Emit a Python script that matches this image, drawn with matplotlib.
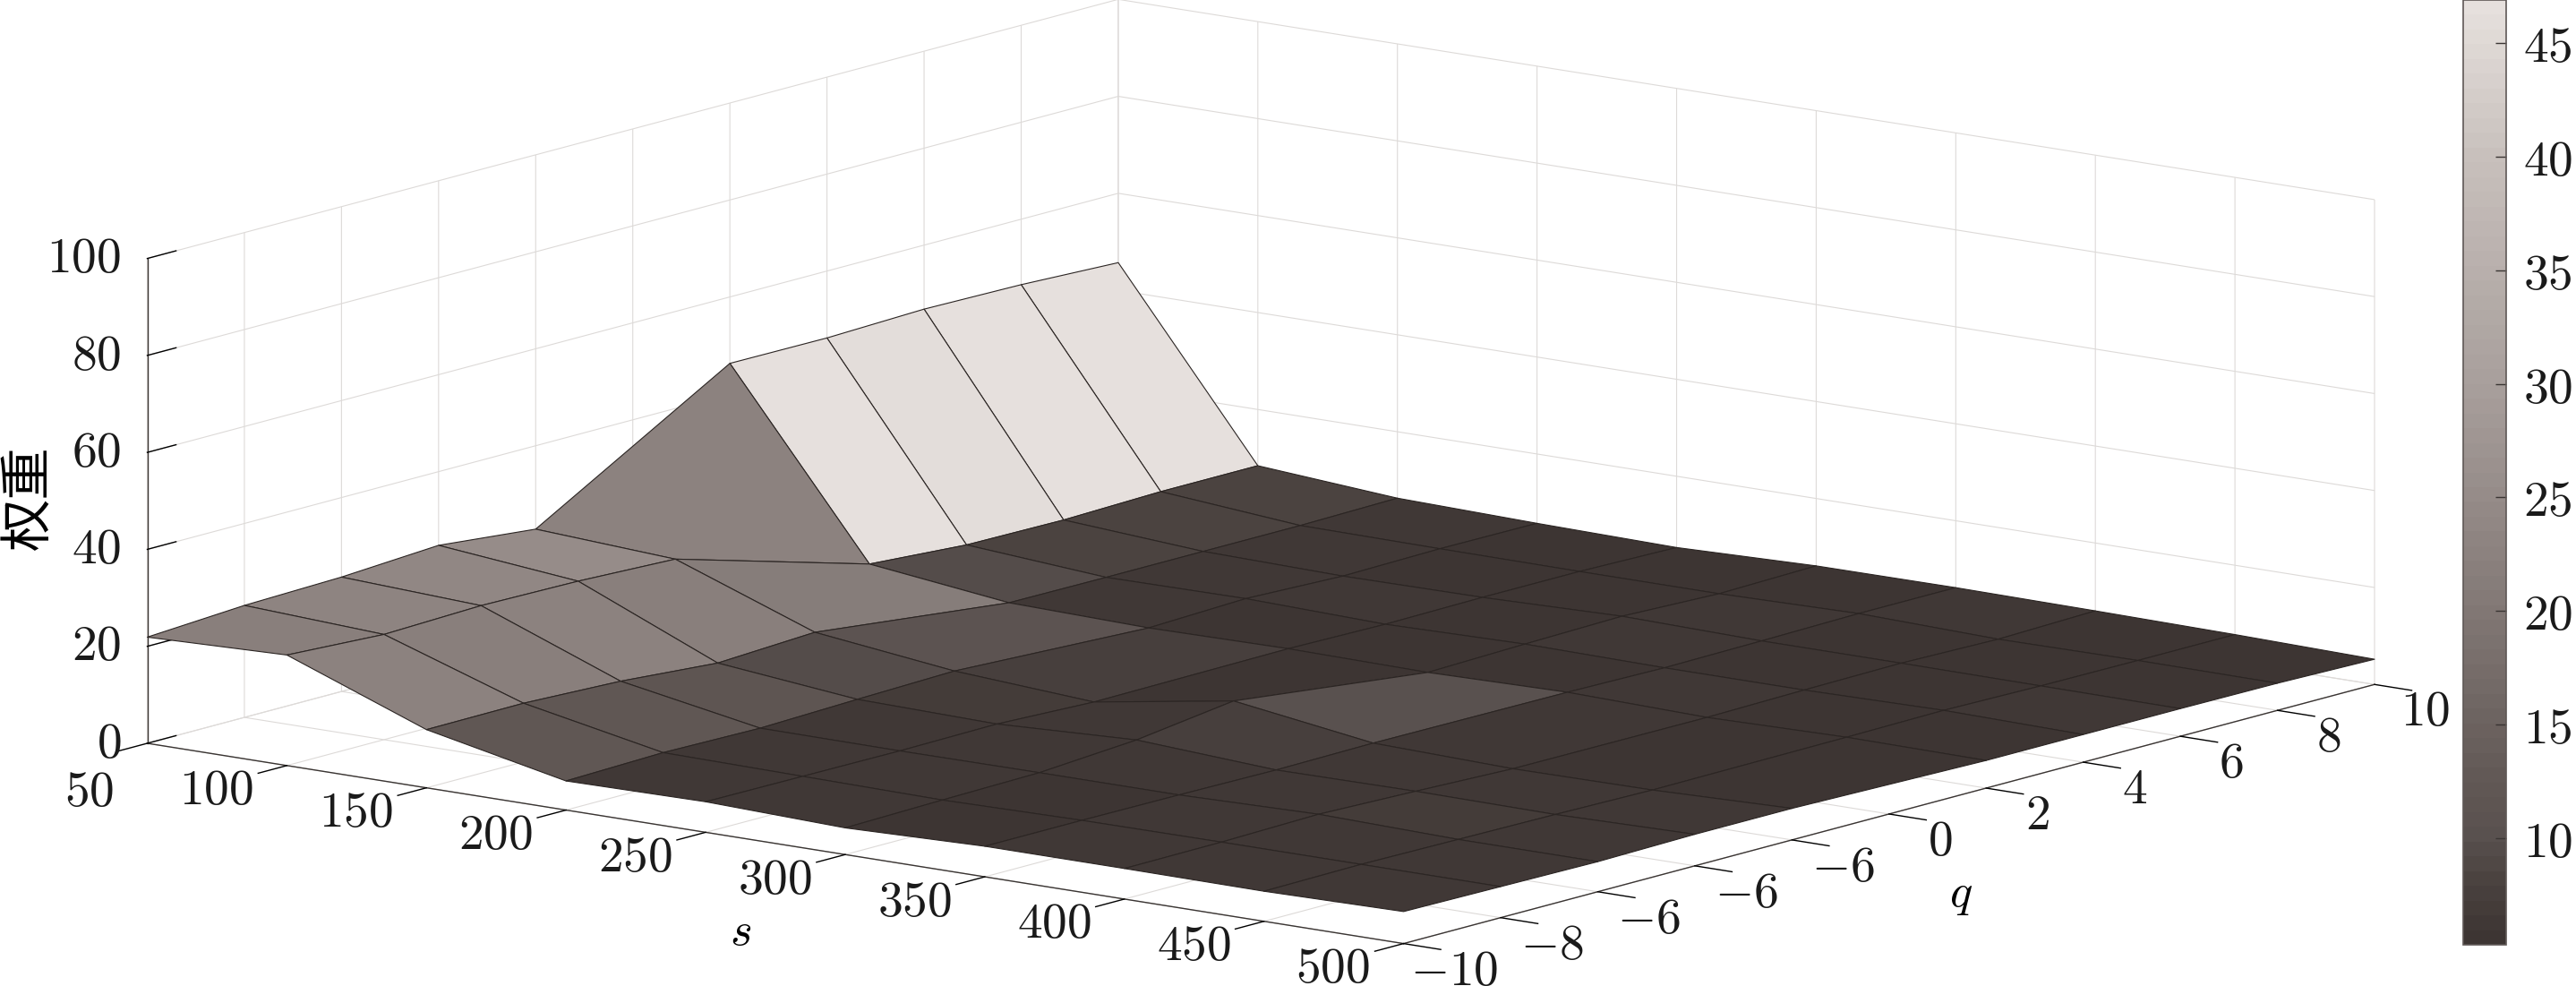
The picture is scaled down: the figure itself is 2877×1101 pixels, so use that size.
"""Weight surface over s and q, MATLAB-style orthographic view with a colorbar."""
import numpy as np
import matplotlib
matplotlib.use("Agg")
import matplotlib.pyplot as plt
from matplotlib.cm import ScalarMappable
from matplotlib.colors import LinearSegmentedColormap, Normalize
from mpl_toolkits.mplot3d import proj3d

W, H = 2877, 1101
DPI = 100

s_values = [50, 100, 150, 200, 250, 300, 350, 400, 450, 500]
# the source data has no q = 0 column
q_values = [-10, -8, -6, -4, -2, 2, 4, 6, 8, 10]

# rows follow s_values, columns follow q_values
weights = [
    [21.9, 23.1, 23.6, 24.8, 22.8, 46.3, 46.2, 46.8, 46.5, 45.7],
    [22.8, 21.7, 22.3, 22.0, 21.2, 9.5, 8.1, 7.9, 8.4, 8.4],
    [12.0, 12.1, 11.3, 9.7, 10.7, 6.1, 6.0, 6.0, 6.0, 6.3],
    [6.0, 6.5, 6.2, 6.8, 7.3, 5.5, 6.2, 5.5, 5.8, 5.7],
    [6.3, 6.2, 6.1, 6.3, 5.5, 5.8, 5.5, 5.7, 5.7, 5.3],
    [5.5, 5.9, 6.2, 7.6, 10.3, 5.5, 6.0, 6.4, 5.7, 6.1],
    [6.3, 6.3, 6.2, 6.0, 6.2, 6.0, 5.7, 5.9, 6.2, 6.2],
    [6.3, 6.4, 6.8, 6.2, 5.5, 5.4, 5.7, 5.9, 5.5, 6.0],
    [6.2, 6.4, 6.2, 6.0, 5.7, 5.9, 6.1, 5.8, 5.7, 5.7],
    [6.6, 6.4, 6.2, 6.5, 6.5, 5.7, 5.7, 5.7, 5.6, 5.2],
]

s_ticks = [50, 100, 150, 200, 250, 300, 350, 400, 450, 500]
q_ticks = [-10, -8, -6, -4, -2, 0, 2, 4, 6, 8, 10]
# the printed labels really repeat -6 where -4 and -2 should be
q_tick_labels = ["-10", "-8", "-6", "-6", "-6", "0", "2", "4", "6", "8", "10"]
z_ticks = [0, 20, 40, 60, 80, 100]
cbar_ticks = [10, 15, 20, 25, 30, 35, 40, 45]

color_min, color_max = 5.3, 46.9
cmap_levels = [5.3, 8.0, 10.0, 12.0, 22.0, 30.0, 40.0, 46.9]
cmap_colors = ["#3d3533", "#4b4340", "#5a5250", "#605754", "#8a807d",
               "#a89f9c", "#c7bfbb", "#e6e0dd"]

plt.rcParams["mathtext.fontset"] = "cm"
plt.rcParams["font.size"] = 40

norm = Normalize(color_min, color_max)
cmap = LinearSegmentedColormap.from_list(
    "warm_gray", [(norm(v), c) for v, c in zip(cmap_levels, cmap_colors)], N=64)

S, Q = np.meshgrid(s_values, q_values, indexing="ij")
Z = np.array(weights)

fig = plt.figure(figsize=(W / DPI, H / DPI), dpi=DPI)
ax = fig.add_subplot(projection="3d", proj_type="ortho")
ax.view_init(elev=11.9, azim=-52.3)
ax.set_box_aspect((1, 1, 0.312))
ax.set_xlim(50, 500, view_margin=0)
ax.set_ylim(-10, 10, view_margin=0)
ax.set_zlim(0, 100, view_margin=0)

# flat facets coloured from their first corner, like MATLAB's surf
surf = ax.plot_surface(S, Q, Z, rstride=1, cstride=1, facecolors=cmap(norm(Z)),
                       edgecolor="#2b2523", linewidth=0.8, shade=False)
# the axes box ends short of the right corner of the floor
surf.set_clip_on(False)

ax.set_xticks(s_ticks, [f"${v}$" for v in s_ticks])
ax.set_yticks(q_ticks, [f"${v}$" for v in q_tick_labels])
ax.set_zticks(z_ticks, [f"${v}$" for v in z_ticks])
ax.zaxis.set_ticks_position("lower")

for axis in (ax.xaxis, ax.yaxis, ax.zaxis):
    axis.set_pane_color((1, 1, 1, 0))
    axis.pane.set_edgecolor("none")
    axis.line.set_color("#3a3533")
    axis.line.set_linewidth(1.0)
    axis._axinfo["grid"].update(color="#dddad8", linewidth=0.8)
    # mplot3d's "inward" points off the box for the two floor axes here
    if axis is ax.zaxis:
        axis._axinfo["tick"].update(inward_factor=0, outward_factor=0.37)
    else:
        axis._axinfo["tick"].update(inward_factor=0.37, outward_factor=0)
    axis._axinfo["tick"].update(color="#3a3533", linewidth={True: 1.0, False: 0.5})

ax.tick_params(axis="x", pad=24, labelcolor="#1a1a1a")
ax.tick_params(axis="y", pad=30, labelcolor="#1a1a1a")
ax.tick_params(axis="z", pad=3, labelcolor="#1a1a1a")
for t in ax.get_xticklabels():
    t.set(ha="right", va="center")
for t in ax.get_yticklabels():
    t.set(ha="center", va="center")
for t in ax.get_zticklabels():
    t.set(ha="right", va="center")
# keep the 50 clear of the z axis 0 just above it
ax.get_xticklabels()[0].set_va("top")


def place_axes():
    # fit the box corners onto their pixel spots in the reference
    px_left, px_right, px_left_y = 164.5, 2652.0, 830.0
    u, v, _ = proj3d.proj_transform(np.array([50.0, 500.0]), np.array([-10.0, 10.0]),
                                    np.array([0.0, 0.0]), ax.get_proj())
    x0, x1 = ax.viewLim.intervalx
    y0, y1 = ax.viewLim.intervaly
    side = (px_right - px_left) / (u[1] - u[0]) * (x1 - x0)
    left = px_left - (u[0] - x0) / (x1 - x0) * side
    bottom = (H - px_left_y) - (v[0] - y0) / (y1 - y0) * side
    ax.set_position([left / W, bottom / H, side / W, side / H])


place_axes()

fig.text(827 / W, 1 - 1040 / H, "$s$", ha="center", va="center", fontsize=38)
fig.text(2190 / W, 1 - 998 / H, "$q$", ha="center", va="center", fontsize=38)
fig.text(32 / W, 1 - 556 / H, "权重", rotation=90, ha="center", va="center",
         fontsize=42, family=["Noto Sans CJK SC", "DejaVu Sans"])

cax = fig.add_axes([2751 / W, 1 - 1055 / H, 48 / W, 1055 / H])
cbar = fig.colorbar(ScalarMappable(norm=norm, cmap=cmap), cax=cax)
cbar.set_ticks(cbar_ticks, labels=[f"${v}$" for v in cbar_ticks])
cbar.ax.tick_params(direction="in", length=8.5, width=1.0, pad=14,
                    color="#3a3533", labelcolor="#1a1a1a")
cbar.outline.set_edgecolor("#5f5856")
cbar.outline.set_linewidth(1.2)

fig.savefig("out.png", dpi=DPI, facecolor="white")
